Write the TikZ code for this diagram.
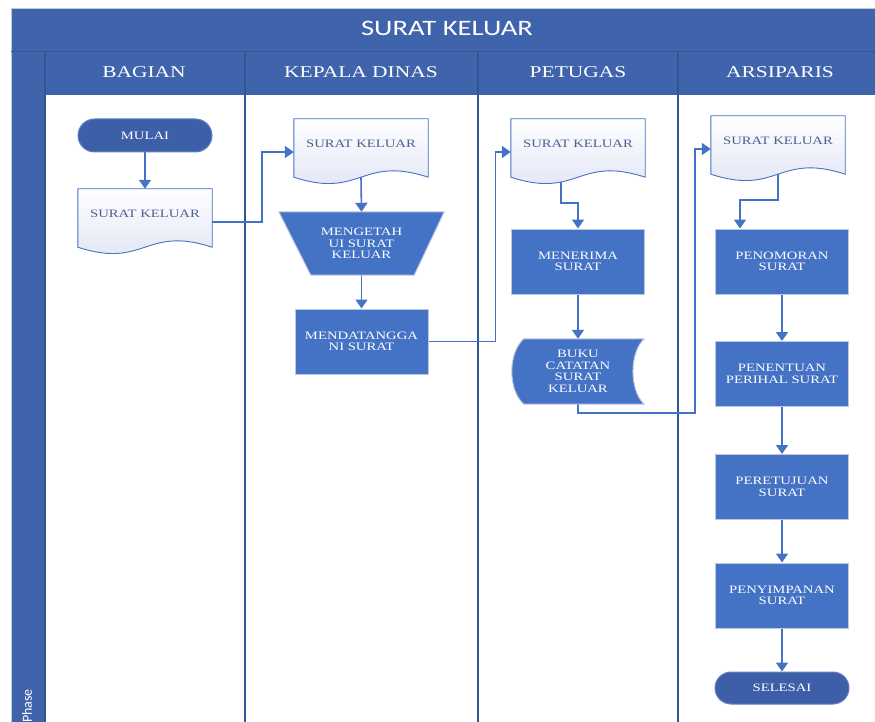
\documentclass[tikz,border=0pt]{standalone}
\usepackage{fontspec}
\usetikzlibrary{arrows.meta,calc,shapes.misc}
\newfontfamily\nodefont{Liberation Serif}[FakeStretch=1.3]
\newfontfamily\titlefont{Carlito}[FakeStretch=1.3]
\newfontfamily\phasefont{Carlito}
\definecolor{headblue}{RGB}{64,100,172}
\definecolor{headline}{RGB}{47,82,143}
\definecolor{procblue}{RGB}{68,114,196}
\definecolor{procedge}{RGB}{190,200,220}
\definecolor{termblue}{RGB}{60,95,168}
\definecolor{termedge}{RGB}{95,130,200}
\definecolor{arrowblue}{RGB}{68,114,196}
\definecolor{doctext}{RGB}{75,95,145}
\definecolor{docbottom}{RGB}{222,226,244}
\definecolor{laneline}{RGB}{50,85,150}
\pgfdeclarelayer{bg}
\pgfdeclarelayer{conn}
\pgfdeclarelayer{shp}
\pgfsetlayers{bg,conn,shp,main}
\newcommand\docframe[1]{%
  \path[draw=arrowblue, line width=0.9pt, top color=white, bottom color=docbottom]
    (#1.north west) -- (#1.north east) -- ($(#1.south east)+(0,8)$)
    .. controls ($(#1.south)+(0,-14)$) and ($(#1.south)+(0,30)$) ..
    ($(#1.south west)+(0,8)$) -- cycle;}
\begin{document}
\begin{tikzpicture}[x=1pt, y=-1pt,
  font=\nodefont\fontsize{11.3}{11.6}\selectfont,
  proc/.style={rectangle, fill=procblue, draw=procedge, line width=1pt,
    minimum width=133pt, minimum height=65pt, text=white, align=center, inner sep=0pt},
  term/.style={rounded rectangle, fill=termblue, draw=termedge, line width=1pt,
    minimum width=134pt, minimum height=33pt, text=white, inner sep=0pt},
  docbox/.style={rectangle, minimum width=134pt, minimum height=50pt,
    text=doctext, align=center, inner sep=0pt},
  trapbox/.style={rectangle, minimum width=165pt, minimum height=63pt,
    text=white, align=center, inner sep=0pt},
  storebox/.style={rectangle, minimum width=132pt, minimum height=65pt,
    text=white, align=center, inner sep=0pt},
  arr/.style={draw=arrowblue, line width=1.6pt, -{Triangle[width=12pt,length=9pt]}},
  hdr/.style={text=white, font=\nodefont\fontsize{16.5}{18}\selectfont},
  lane/.style={draw=laneline, line width=1.3pt}
]
\useasboundingbox (0,0) rectangle (875,722);

% ---------- background: pool and lanes ----------
\begin{pgfonlayer}{bg}
  \fill[headblue] (11,8) rectangle (875,95);
  \fill[headblue] (11,95) rectangle (45,722);
  \draw[draw=procedge, line width=0.6pt] (11,722) -- (11,8) -- (875,8);
  \draw[lane, line width=0.9pt] (11,51) -- (875,51);
  \draw[lane] (45,51) -- (45,722);
  \draw[lane] (245,51) -- (245,722);
  \draw[lane] (478,51) -- (478,722);
  \draw[lane] (678,51) -- (678,722);
\end{pgfonlayer}

% ---------- headers ----------
\node[text=white, font=\titlefont\fontsize{22}{24}\selectfont] (title) at (447,28) {SURAT KELUAR};
\node[hdr] (hbagian) at (144,72) {BAGIAN};
\node[hdr] (hkepala) at (361,72) {KEPALA DINAS};
\node[hdr] (hpetugas) at (578,72) {PETUGAS};
\node[hdr] (harsip) at (780,72) {ARSIPARIS};
\node[rotate=90, anchor=west, text=white, inner sep=0pt,
      font=\phasefont\fontsize{14}{16}\selectfont] (phase) at (27,723) {Phase};

% ---------- nodes ----------
\node[term] (mulai) at (145,135.5) {MULAI};
\node[docbox] (d1) at (145,214) {SURAT KELUAR};
\node[docbox] (d2) at (361,144) {SURAT KELUAR};
\node[docbox] (d3) at (578,144) {SURAT KELUAR};
\node[docbox] (d4) at (778,141) {SURAT KELUAR};
\node[trapbox] (trap) at (361.5,243.5) {MENGETAH\\UI SURAT\\KELUAR};
\node[proc] (mend) at (361.5,341.5) {MENDATANGGA\\NI SURAT};
\node[proc] (terima) at (578,261.5) {MENERIMA\\SURAT};
\node[storebox] (buku) at (578,371.5) {BUKU\\CATATAN\\SURAT\\KELUAR};
\node[proc] (nomor) at (782,261.5) {PENOMORAN\\SURAT};
\node[proc] (tentu) at (782,374) {PENENTUAN\\PERIHAL SURAT};
\node[proc] (setuju) at (782,487) {PERETUJUAN\\SURAT};
\node[proc] (simpan) at (782,595.5) {PENYIMPANAN\\SURAT};
\node[term, minimum height=32pt] (selesai) at (782,688) {SELESAI};

% ---------- custom shapes ----------
\begin{pgfonlayer}{shp}
  \docframe{d1}
  \docframe{d2}
  \docframe{d3}
  \docframe{d4}
  \path[fill=procblue, draw=procedge, line width=1pt]
    (trap.north west) -- (trap.north east) -- ($(trap.south east)+(-30,0)$)
    -- ($(trap.south west)+(32,0)$) -- cycle;
  \path[fill=procblue, draw=procedge, line width=1pt]
    ($(buku.north west)+(12,0)$) -- (buku.north east)
    .. controls ($(buku.north east)+(-15,14)$) and ($(buku.south east)+(-15,-14)$) .. (buku.south east)
    -- ($(buku.south west)+(12,0)$)
    .. controls ($(buku.south west)+(-4,-14)$) and ($(buku.north west)+(-4,14)$) .. ($(buku.north west)+(12,0)$)
    -- cycle;
\end{pgfonlayer}

% ---------- connectors ----------
\begin{pgfonlayer}{conn}
  \coordinate (d1out) at ($(d1.east)+(0,8)$);
  \coordinate (d2in) at ($(d2.west)+(0,8)$);
  \coordinate (d2out) at ($(d2.south)+(0,8)$);
  \coordinate (d3in) at ($(d3.west)+(0,8)$);
  \coordinate (d3out) at ($(d3.south)+(-17,0)$);
  \coordinate (d4in) at ($(d4.west)+(0,8)$);
  \coordinate (nomorin) at ($(nomor.north)+(-42,0)$);
  \draw[arr] (mulai.south) -- (d1.north);
  \draw[arr] (d1out) -- ++(50,0) |- (d2in);
  \draw[arr] (d2out) -- (trap.north);
  \draw[arr] (trap.south) -- (mend.north);
  \draw[arr] (mend.east) -- ++(67,0) |- (d3in);
  \draw[arr] (d3out) -- ++(0,34) -| (terima.north);
  \draw[arr] (terima.south) -- (buku.north);
  \draw[arr] (buku.south) -- ++(0,9) -- ++(117,0) |- (d4in);
  \draw[arr] (d4.south) -- ++(0,34) -| (nomorin);
  \draw[arr] (nomor.south) -- (tentu.north);
  \draw[arr] (tentu.south) -- (setuju.north);
  \draw[arr] (setuju.south) -- (simpan.north);
  \draw[arr] (simpan.south) -- (selesai.north);
\end{pgfonlayer}
\end{tikzpicture}
\end{document}
